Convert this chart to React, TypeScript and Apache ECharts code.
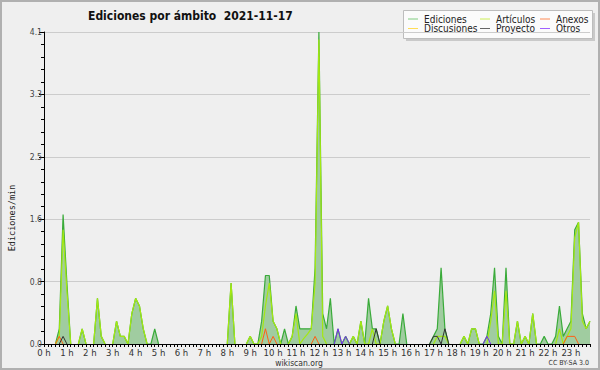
import React, { useEffect, useRef } from "react";
import * as echarts from "echarts";

const hourLabels = [
  "0 h", "1 h", "2 h", "3 h", "4 h", "5 h", "6 h", "7 h", "8 h", "9 h", "10 h", "11 h",
  "12 h", "13 h", "14 h", "15 h", "16 h", "17 h", "18 h", "19 h", "20 h", "21 h", "22 h", "23 h",
];
const minuteSlots = ["00", "10", "20", "30", "40", "50"];
const yTicks = [0, 0.82, 1.64, 2.46, 3.28, 4.1];

// 10-minute buckets, edits per minute (6 values per hour)
const ediciones = [
  0, 0, 0, 0, 0.2, 1.7,
  0.8, 0, 0, 0, 0.2, 0,
  0, 0, 0.6, 0.1, 0, 0,
  0, 0.3, 0.1, 0.1, 0, 0.4,
  0.6, 0.5, 0.2, 0, 0, 0.2,
  0, 0, 0, 0, 0, 0,
  0, 0, 0, 0, 0, 0,
  0, 0, 0, 0, 0, 0,
  0, 0.8, 0, 0, 0, 0,
  0.1, 0, 0, 0.3, 0.9, 0.9,
  0.3, 0.2, 0, 0.2, 0, 0.1,
  0.5, 0.2, 0.2, 0.2, 0.2, 1.0,
  4.1, 0.4, 0.2, 0.6, 0, 0.2,
  0, 0.1, 0, 0.1, 0, 0.3,
  0, 0.6, 0.2, 0.2, 0, 0.3,
  0.5, 0.2, 0, 0, 0.4, 0,
  0, 0, 0, 0, 0, 0,
  0.1, 0.2, 1.0, 0.2, 0, 0,
  0, 0, 0.1, 0, 0.2, 0.2,
  0, 0, 0.1, 0.4, 1.0, 0.1,
  0, 1.0, 0, 0, 0.3, 0,
  0.1, 0, 0.4, 0, 0, 0.1,
  0, 0, 0.1, 0.5, 0.1, 0.2,
  0.3, 1.5, 1.6, 0.4, 0.2, 0.3,
];
const articulos = [
  0, 0, 0, 0, 0.1, 1.5,
  0.7, 0, 0, 0, 0.2, 0,
  0, 0, 0.6, 0.1, 0, 0,
  0, 0.3, 0.1, 0.1, 0, 0.4,
  0.6, 0.5, 0.2, 0, 0, 0,
  0, 0, 0, 0, 0, 0,
  0, 0, 0, 0, 0, 0,
  0, 0, 0, 0, 0, 0,
  0, 0.8, 0, 0, 0, 0,
  0.1, 0, 0, 0.1, 0.5, 0.8,
  0.3, 0.2, 0, 0, 0, 0.1,
  0.4, 0, 0.07, 0.13, 0.2, 0.8,
  4.0, 0.1, 0, 0, 0, 0,
  0, 0, 0, 0.1, 0, 0.3,
  0, 0, 0.2, 0, 0, 0.3,
  0.5, 0.2, 0, 0, 0, 0,
  0, 0, 0, 0, 0, 0,
  0, 0.1, 0.1, 0.1, 0, 0,
  0, 0, 0.1, 0, 0.2, 0.2,
  0, 0, 0, 0.3, 0.7, 0,
  0, 0.7, 0, 0, 0.3, 0,
  0.1, 0, 0.4, 0, 0, 0,
  0, 0, 0, 0.2, 0, 0.1,
  0.2, 1.4, 1.6, 0.3, 0.2, 0.3,
];
const anexos = [
  0, 0, 0, 0, 0.1, 0,
  0, 0, 0, 0, 0, 0,
  0, 0, 0, 0, 0, 0,
  0, 0, 0, 0, 0, 0,
  0, 0, 0, 0, 0, 0,
  0, 0, 0, 0, 0, 0,
  0, 0, 0, 0, 0, 0,
  0, 0, 0, 0, 0, 0,
  0, 0, 0, 0, 0, 0,
  0, 0, 0, 0, 0.2, 0,
  0.1, 0, 0, 0, 0, 0,
  0, 0, 0, 0, 0, 0.1,
  0, 0, 0, 0, 0, 0,
  0, 0, 0, 0, 0, 0,
  0, 0, 0, 0, 0, 0,
  0, 0, 0, 0, 0, 0,
  0, 0, 0, 0, 0, 0,
  0, 0, 0, 0, 0, 0,
  0, 0, 0, 0, 0, 0,
  0, 0, 0, 0, 0, 0,
  0, 0, 0, 0, 0, 0,
  0, 0, 0, 0, 0, 0,
  0, 0, 0, 0, 0, 0.1,
  0.1, 0.1, 0, 0, 0, 0,
];
const discusiones = [
  0, 0, 0, 0, 0, 0, 0, 0, 0, 0, 0, 0, 0, 0, 0, 0, 0, 0, 0, 0, 0, 0, 0, 0,
  0, 0, 0, 0, 0, 0, 0, 0, 0, 0, 0, 0, 0, 0, 0, 0, 0, 0, 0, 0, 0, 0, 0, 0,
  0, 0, 0, 0, 0, 0, 0, 0, 0, 0, 0, 0, 0, 0, 0, 0, 0, 0, 0, 0, 0, 0, 0, 0,
  0, 0, 0, 0, 0, 0, 0, 0, 0, 0, 0, 0, 0, 0, 0, 0, 0, 0, 0, 0, 0, 0, 0, 0,
  0, 0, 0, 0, 0, 0, 0, 0, 0, 0, 0, 0, 0, 0, 0, 0, 0, 0, 0, 0, 0, 0, 0, 0,
  0, 0, 0, 0, 0, 0, 0, 0, 0, 0, 0, 0, 0, 0, 0, 0, 0, 0, 0, 0, 0, 0, 0, 0,
];
const proyecto = [
  0, 0, 0, 0, 0, 0.1,
  0, 0, 0, 0, 0, 0,
  0, 0, 0, 0, 0, 0,
  0, 0, 0, 0, 0, 0,
  0, 0, 0, 0, 0, 0,
  0, 0, 0, 0, 0, 0,
  0, 0, 0, 0, 0, 0,
  0, 0, 0, 0, 0, 0,
  0, 0, 0, 0, 0, 0,
  0, 0, 0, 0, 0, 0,
  0, 0, 0, 0, 0, 0,
  0, 0, 0, 0, 0, 0,
  0, 0, 0, 0, 0, 0,
  0, 0, 0, 0, 0, 0,
  0, 0, 0, 0.2, 0, 0,
  0, 0, 0, 0, 0, 0,
  0, 0, 0, 0, 0, 0,
  0.1, 0.1, 0, 0.2, 0, 0,
  0, 0, 0, 0, 0, 0,
  0, 0, 0, 0, 0, 0,
  0, 0, 0, 0, 0, 0,
  0, 0, 0, 0, 0, 0,
  0, 0, 0, 0, 0, 0,
  0, 0, 0, 0, 0, 0,
];
const otros = [
  0, 0, 0, 0, 0, 0,
  0, 0, 0, 0, 0, 0,
  0, 0, 0, 0, 0, 0,
  0, 0, 0, 0, 0, 0,
  0, 0, 0, 0, 0, 0,
  0, 0, 0, 0, 0, 0,
  0, 0, 0, 0, 0, 0,
  0, 0, 0, 0, 0, 0,
  0, 0, 0, 0, 0, 0,
  0, 0, 0, 0, 0, 0,
  0, 0, 0, 0, 0, 0,
  0, 0, 0, 0, 0, 0,
  0, 0, 0, 0, 0, 0.2,
  0, 0.1, 0, 0, 0, 0,
  0, 0, 0, 0, 0, 0,
  0, 0, 0, 0, 0, 0,
  0, 0, 0, 0, 0, 0,
  0, 0, 0, 0, 0, 0,
  0, 0, 0, 0, 0, 0,
  0, 0, 0.1, 0, 0, 0,
  0, 0, 0, 0, 0, 0,
  0, 0, 0, 0, 0, 0,
  0, 0, 0, 0, 0, 0,
  0, 0, 0, 0, 0, 0,
];

const legendItems = [
  { name: "Ediciones", color: "#80cc80", col: 0, row: 0 },
  { name: "Artículos", color: "#ccee55", col: 1, row: 0 },
  { name: "Anexos", color: "#ff8a55", col: 2, row: 0 },
  { name: "Discusiones", color: "#ffdd55", col: 0, row: 1 },
  { name: "Proyecto", color: "#666666", col: 1, row: 1 },
  { name: "Otros", color: "#a060ff", col: 2, row: 1 },
];

const FONT = "'DejaVu Sans Condensed', 'DejaVu Sans', sans-serif";

// keep zero runs off the baseline: only zeros that touch a non-zero value are kept
const trim = (arr: number[]) =>
  arr.map((v, i) => (v > 0 || (arr[i - 1] ?? 0) > 0 || (arr[i + 1] ?? 0) > 0 ? v : null));

export default function App() {
  const ref = useRef<HTMLDivElement>(null);

  useEffect(() => {
    document.body.style.margin = "0";
    const chart = echarts.init(ref.current!, null, { renderer: "svg" });
    const categories = hourLabels.flatMap((h, hi) => minuteSlots.map((m) => `${hi}:${m}`));

    const lineSeries = (name: string, data: number[], color: string, width: number, z: number) => ({
      name,
      type: "line",
      data: trim(data),
      showSymbol: false,
      symbol: "none",
      lineStyle: { color, width },
      itemStyle: { color },
      z,
    });

    const legendCols = [408, 480, 540];
    const legendRows = [19, 28.5];
    const legendGraphics: any[] = [
      { type: "rect", shape: { x: 406, y: 13, width: 189, height: 28 }, style: { fill: "#c9c9c9" }, silent: true },
      { type: "rect", shape: { x: 403.5, y: 10.5, width: 189, height: 28 }, style: { fill: "#fbfbfb", stroke: "#bdbdbd", lineWidth: 1 }, silent: true },
    ];
    legendItems.forEach((it) => {
      const x = legendCols[it.col];
      const y = legendRows[it.row];
      legendGraphics.push({
        type: "line",
        shape: { x1: x, y1: y, x2: x + 10, y2: y },
        style: { stroke: it.color, lineWidth: 1 },
        silent: true,
      });
      legendGraphics.push({
        type: "text",
        x: x + 16,
        y,
        style: { text: it.name, fill: "#222", font: `10px ${FONT}`, lineHeight: 9, verticalAlign: "middle" },
        silent: true,
      });
    });

    chart.setOption({
      animation: false,
      backgroundColor: "#efefef",
      grid: { left: 44, right: 10, top: 32, bottom: 26 },
      xAxis: {
        type: "category",
        data: categories,
        boundaryGap: false,
        z: 5,
        axisLine: { lineStyle: { color: "#000", width: 1 } },
        axisTick: { show: true, interval: 0, length: 3, lineStyle: { color: "#000" } },
        axisLabel: {
          interval: 5,
          margin: 4,
          color: "#333",
          fontSize: 9.5,
          lineHeight: 9,
          fontFamily: FONT,
          formatter: (_v: string, i: number) => hourLabels[Math.floor(i / 6)],
        },
        splitLine: { show: false },
      },
      yAxis: {
        type: "value",
        min: 0,
        max: yTicks[yTicks.length - 1],
        interval: yTicks[1],
        axisLine: { show: true, lineStyle: { color: "#000", width: 1 } },
        axisTick: { show: true, length: 5, lineStyle: { color: "#000" } },
        minorTick: { show: true, splitNumber: 5, length: 3, lineStyle: { color: "#000" } },
        axisLabel: {
          color: "#444",
          fontSize: 8.5,
          lineHeight: 7,
          fontFamily: FONT,
          margin: 2,
          formatter: (v: number) => v.toFixed(1),
        },
        splitLine: { show: true, lineStyle: { color: "#cccccc", width: 1 } },
      },
      series: [
        {
          ...lineSeries("Ediciones", ediciones, "#3aab3a", 1.2, 2),
          areaStyle: { color: "#a0cca0", opacity: 1 },
        },
        lineSeries("Artículos", articulos, "#a4e812", 1.2, 3),
        lineSeries("Discusiones", discusiones, "#ffcc22", 1, 4),
        lineSeries("Anexos", anexos, "#ff5f14", 1, 4),
        lineSeries("Proyecto", proyecto, "#333333", 1, 4),
        lineSeries("Otros", otros, "#7a2ff0", 1, 4),
      ],
      graphic: [
        {
          type: "rect",
          shape: { x: 1, y: 1, width: 598, height: 368 },
          style: { fill: "none", stroke: "#b0b0b0", lineWidth: 2 },
          silent: true,
          z: 100,
        },
        {
          type: "text",
          x: 88,
          y: 16,
          style: {
            text: "Ediciones por ámbito  2021-11-17",
            fill: "#111",
            font: `bold 12px ${FONT}`,
            verticalAlign: "middle",
          },
          silent: true,
        },
        {
          type: "text",
          x: 12,
          y: 218,
          rotation: Math.PI / 2,
          style: {
            text: "Ediciones/min",
            fill: "#222",
            font: "8.5px 'DejaVu Sans Mono', monospace",
            align: "center",
            verticalAlign: "middle",
          },
          silent: true,
        },
        {
          type: "text",
          x: 299,
          y: 362.5,
          style: { text: "wikiscan.org", fill: "#333", font: `8.5px ${FONT}`, lineHeight: 8, align: "center", verticalAlign: "middle" },
          silent: true,
        },
        {
          type: "text",
          x: 589,
          y: 362.5,
          style: { text: "CC BY-SA 3.0", fill: "#333", font: `7px ${FONT}`, lineHeight: 7, align: "right", verticalAlign: "middle" },
          silent: true,
        },
        ...legendGraphics,
      ],
    });

    return () => chart.dispose();
  }, []);

  return <div ref={ref} style={{ width: 600, height: 370 }} />;
}
